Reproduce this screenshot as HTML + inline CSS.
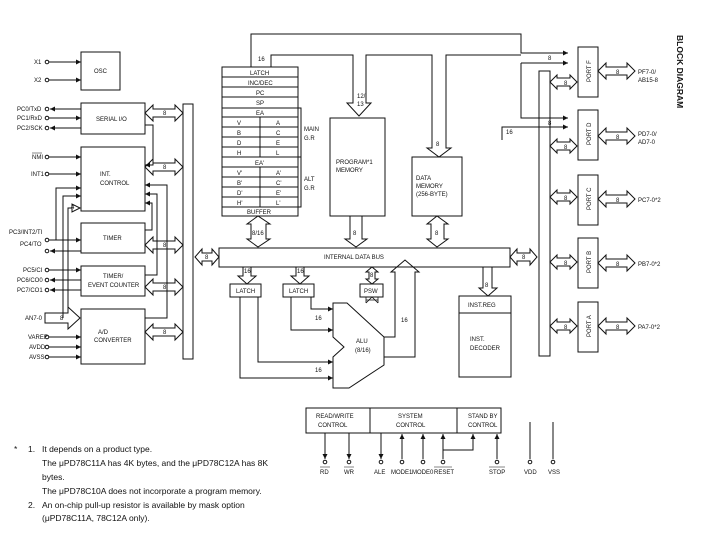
<!DOCTYPE html>
<html><head><meta charset="utf-8"><style>
body{margin:0;background:#fff}
svg{display:block}
text{font-family:"Liberation Sans",sans-serif;font-size:6px;fill:#111}
.fn{font-size:8.5px}
</style></head><body>
<svg width="706" height="550" viewBox="0 0 706 550" xmlns="http://www.w3.org/2000/svg">
<defs>
<marker id="a" viewBox="0 0 6 6" refX="6" refY="3" markerWidth="5" markerHeight="5" orient="auto"><path d="M0,0L6,3L0,6z" fill="#111"/></marker>
</defs>
<g fill="none" stroke="#111" stroke-width="1">
<!-- left boxes -->
<rect x="81" y="52" width="39" height="38"/>
<rect x="81" y="103" width="64" height="31"/>
<rect x="81" y="147" width="64" height="64"/>
<rect x="81" y="223" width="64" height="30"/>
<rect x="81" y="266" width="64" height="30"/>
<rect x="81" y="309" width="64" height="55"/>
<rect x="183" y="104" width="10" height="255"/>
<!-- pins left -->
<g>
<circle cx="47" cy="62" r="1.8"/><path d="M49,62H81" marker-end="url(#a)"/>
<circle cx="47" cy="80" r="1.8"/><path d="M49,80H81" marker-end="url(#a)"/>
<circle cx="47" cy="109" r="1.8"/><path d="M81,109H50" marker-end="url(#a)"/>
<circle cx="47" cy="118" r="1.8"/><path d="M49,118H81" marker-end="url(#a)"/>
<circle cx="47" cy="128" r="1.8"/><path d="M81,128H50" marker-end="url(#a)"/>
<circle cx="47" cy="157" r="1.8"/><path d="M49,157H81" marker-end="url(#a)"/>
<circle cx="47" cy="174" r="1.8"/><path d="M49,174H81" marker-end="url(#a)"/>
<circle cx="47" cy="240" r="1.8"/><path d="M49,240H81" marker-end="url(#a)"/>
<circle cx="47" cy="251" r="1.8"/><path d="M81,251H50" marker-end="url(#a)"/>
<circle cx="47" cy="270" r="1.8"/><path d="M49,270H81" marker-end="url(#a)"/>
<circle cx="47" cy="280" r="1.8"/><path d="M81,280H50" marker-end="url(#a)"/>
<circle cx="47" cy="290" r="1.8"/><path d="M81,290H50" marker-end="url(#a)"/>
<circle cx="47" cy="337" r="1.8"/><path d="M49,337H81" marker-end="url(#a)"/>
<circle cx="47" cy="347" r="1.8"/><path d="M49,347H81" marker-end="url(#a)"/>
<circle cx="47" cy="357" r="1.8"/><path d="M49,357H81" marker-end="url(#a)"/>
<path d="M56,240V188H81" marker-end="url(#a)"/>
<path d="M63,318V196H81" marker-end="url(#a)"/>
<path d="M45,313H68V307L80,318L68,329V323H45Z"/>
<path d="M68,313V208H72V204L80,208L72,212V208"/>
<path d="M145,125H153V165H145" marker-end="url(#a)"/>
<path d="M145,230H152V203H145" marker-end="url(#a)"/>
<path d="M145,275H157V194H145" marker-end="url(#a)"/>
<path d="M145,318H167V185H145" marker-end="url(#a)"/>
</g>
<!-- left double arrows -->
<g>
<path d="M145,113L153,105V109H175V105L183,113L175,121V117H153V121Z"/>
<path d="M145,167L153,159V163H175V159L183,167L175,175V171H153V175Z"/>
<path d="M145,245L153,237V241H175V237L183,245L175,253V249H153V253Z"/>
<path d="M145,287L153,279V283H175V279L183,287L175,295V291H153V295Z"/>
<path d="M145,332L153,324V328H175V324L183,332L175,340V336H153V340Z"/>
<path d="M195,257L202,249V253H212V249L219,257L212,265V261H202V265Z"/>
<path d="M510,257L517,249V253H530V249L537,257L530,265V261H517V265Z"/>
</g>
<!-- register file -->
<rect x="222" y="67" width="76" height="149"/>
<path d="M222,77H298M222,87H298M222,97H298M222,108H298M222,117H298M222,127H298M222,137H298M222,147H298M222,157H298M222,167H298M222,177H298M222,187H298M222,197H298M222,207H298M260,117V157M260,167V207"/>
<path d="M298,108h3v49h-3M298,157h3v50h-3"/>
<!-- memories -->
<rect x="330" y="118" width="55" height="98"/>
<rect x="412" y="157" width="50" height="59"/>
<!-- top address lines -->
<path d="M251,67V34H521V53H568" marker-end="url(#a)"/>
<path d="M271,67V55H353V103h-6l12,13l12,-13h-5V55H432V148h-5l12,9l12,-9h-5V55H521"/>
<path d="M521,63H568" marker-end="url(#a)"/>
<path d="M521,63V118H568" marker-end="url(#a)"/>
<path d="M502,140V127H568" marker-end="url(#a)"/>
<!-- down arrows to bus -->
<path d="M258,216L247,224H251V239H247L258,247L270,239H266V224H270Z"/>
<path d="M350,216V239H345L356,247L367,239H362V216"/>
<path d="M437,216L427,224H431V239H427L437,247L448,239H444V224H448Z"/>
<!-- internal bus -->
<rect x="219" y="248" width="291" height="19"/>
<path d="M243,267V276H238L247,284L256,276H251V267"/>
<path d="M296,267V276H291L300,284L309,276H304V267"/>
<path d="M366,272L372,267L378,272H375V279H378L372,284L366,279H369V272Z"/>
<path d="M483,267V288H479L488,296L497,288H492V267"/>
<rect x="230" y="284" width="31" height="13"/>
<rect x="283" y="284" width="31" height="13"/>
<rect x="360" y="284" width="23" height="13"/>
<rect x="459" y="296" width="52" height="81"/>
<path d="M459,313H511"/>
<!-- ALU -->
<path d="M333,303H347L384,337V365L349,388H333V357L344,347L333,337Z"/>
<path d="M366,303V297M378,303V297M366,303L372,297L378,303M366,300H378" stroke-width="0.8"/>
<path d="M384,337H395V272H391L405,260L419,272H415V357H384"/>
<path d="M291,297V330H333" marker-end="url(#a)"/>
<path d="M311,297V309H333" marker-end="url(#a)"/>
<path d="M240,297V378H333" marker-end="url(#a)"/>
<path d="M258,297V362H333" marker-end="url(#a)"/>
<!-- right bus and ports -->
<rect x="539" y="71" width="11" height="285"/>
<rect x="578" y="47" width="20" height="50"/>
<rect x="578" y="110" width="20" height="50"/>
<rect x="578" y="175" width="20" height="50"/>
<rect x="578" y="238" width="20" height="50"/>
<rect x="578" y="302" width="20" height="50"/>
<g>
<path d="M550,82L557,75V78H570V75L577,82L570,89V86H557V89Z"/>
<path d="M550,146L557,139V142H570V139L577,146L570,153V150H557V153Z"/>
<path d="M550,197L557,190V193H570V190L577,197L570,204V201H557V204Z"/>
<path d="M550,262L557,255V258H570V255L577,262L570,269V266H557V269Z"/>
<path d="M550,326L557,319V322H570V319L577,326L570,333V330H557V333Z"/>
<path d="M598,71L606,63V67H627V63L635,71L627,79V75H606V79Z"/>
<path d="M598,136L606,128V132H627V128L635,136L627,144V140H606V144Z"/>
<path d="M598,199L606,191V195H627V191L635,199L627,207V203H606V207Z"/>
<path d="M598,263L606,255V259H627V255L635,263L627,271V267H606V271Z"/>
<path d="M598,326L606,318V322H627V318L635,326L627,334V330H606V334Z"/>
</g>
<!-- bottom control -->
<rect x="306" y="408" width="195" height="25"/>
<path d="M370,408V433M457,408V433"/>
<path d="M325,433V459" marker-end="url(#a)"/>
<path d="M349,433V459" marker-end="url(#a)"/>
<path d="M381,433V459" marker-end="url(#a)"/>
<path d="M402,459V434" marker-end="url(#a)"/>
<path d="M423,459V434" marker-end="url(#a)"/>
<path d="M443,459V434" marker-end="url(#a)"/>
<path d="M443,450H473V434" marker-end="url(#a)"/>
<path d="M497,459V434" marker-end="url(#a)"/>
<path d="M530,422V459M553,422V459"/>
<circle cx="325" cy="462" r="1.8"/><circle cx="349" cy="462" r="1.8"/><circle cx="381" cy="462" r="1.8"/><circle cx="402" cy="462" r="1.8"/><circle cx="423" cy="462" r="1.8"/><circle cx="443" cy="462" r="1.8"/><circle cx="497" cy="462" r="1.8"/><circle cx="530" cy="462" r="1.8"/><circle cx="553" cy="462" r="1.8"/>
</g>
<g>
<text x="34" y="64">X1</text><text x="34" y="82">X2</text>
<text x="94" y="73">OSC</text>
<text x="17" y="111">PC0/TxD</text><text x="17" y="120">PC1/RxD</text><text x="17" y="130">PC2/SCK</text>
<text x="96" y="121">SERIAL I/O</text>
<text x="32" y="159">NMI</text><text x="31" y="176">INT1</text>
<text x="100" y="176">INT.</text><text x="100" y="185">CONTROL</text>
<text x="9" y="234">PC3/INT2/TI</text><text x="20" y="246">PC4/TO</text>
<text x="103" y="240">TIMER</text>
<text x="23" y="272">PC5/CI</text><text x="17" y="282">PC6/CO0</text><text x="17" y="292">PC7/CO1</text>
<text x="103" y="278">TIMER/</text><text x="88" y="287">EVENT COUNTER</text>
<text x="25" y="320">AN7-0</text><text x="60" y="320">8</text><text x="71" y="209">4</text>
<text x="98" y="334">A/D</text><text x="94" y="342">CONVERTER</text>
<text x="28" y="339">VAREF</text><text x="29" y="349">AVDD</text><text x="29" y="359">AVSS</text>
<text x="163" y="115">8</text><text x="163" y="169">8</text><text x="163" y="247">8</text><text x="163" y="289">8</text><text x="163" y="334">8</text><text x="205" y="259">8</text><text x="522" y="259">8</text>
<text x="258" y="61">16</text><text x="357" y="98">12/</text><text x="357" y="106">13</text><text x="436" y="146">8</text><text x="506" y="134">16</text>
<text x="548" y="60">8</text><text x="548" y="125">8</text>
<text x="250" y="75">LATCH</text><text x="248" y="85">INC/DEC</text><text x="256" y="95">PC</text><text x="256" y="105">SP</text><text x="256" y="115">EA</text>
<text x="237" y="125">V</text><text x="276" y="125">A</text><text x="237" y="135">B</text><text x="276" y="135">C</text><text x="237" y="145">D</text><text x="276" y="145">E</text><text x="237" y="155">H</text><text x="276" y="155">L</text>
<text x="255" y="165">EA'</text>
<text x="237" y="175">V'</text><text x="276" y="175">A'</text><text x="237" y="185">B'</text><text x="276" y="185">C'</text><text x="237" y="195">D'</text><text x="276" y="195">E'</text><text x="237" y="205">H'</text><text x="276" y="205">L'</text>
<text x="247" y="214">BUFFER</text>
<text x="304" y="131">MAIN</text><text x="304" y="140">G.R</text><text x="304" y="181">ALT</text><text x="304" y="190">G.R</text>
<text x="336" y="164">PROGRAM*1</text><text x="336" y="172">MEMORY</text>
<text x="416" y="180">DATA</text><text x="416" y="188">MEMORY</text><text x="416" y="196">(256-BYTE)</text>
<text x="252" y="235">8/16</text><text x="353" y="235">8</text><text x="435" y="235">8</text>
<text x="324" y="259">INTERNAL DATA BUS</text>
<text x="244" y="273">16</text><text x="297" y="273">16</text><text x="370" y="277">8</text><text x="485" y="287">8</text>
<text x="236" y="293">LATCH</text><text x="289" y="293">LATCH</text><text x="364" y="293">PSW</text>
<text x="315" y="320">16</text><text x="315" y="372">16</text><text x="401" y="322">16</text>
<text x="356" y="343">ALU</text><text x="355" y="352">(8/16)</text>
<text x="468" y="307">INST.REG</text><text x="470" y="341">INST.</text><text x="470" y="350">DECODER</text>
<text x="564" y="85">8</text><text x="564" y="149">8</text><text x="564" y="200">8</text><text x="564" y="265">8</text><text x="564" y="329">8</text>
<text x="616" y="74">8</text><text x="616" y="139">8</text><text x="616" y="202">8</text><text x="616" y="266">8</text><text x="616" y="329">8</text>
<text x="638" y="74">PF7-0/</text><text x="638" y="82">AB15-8</text><text x="638" y="136">PD7-0/</text><text x="638" y="144">AD7-0</text>
<text x="638" y="202">PC7-0*2</text><text x="638" y="266">PB7-0*2</text><text x="638" y="329">PA7-0*2</text>
<text transform="translate(591,72) rotate(-90)" x="-10" y="0">PORT F</text>
<text transform="translate(591,135) rotate(-90)" x="-10" y="0">PORT D</text>
<text transform="translate(591,200) rotate(-90)" x="-10" y="0">PORT C</text>
<text transform="translate(591,263) rotate(-90)" x="-10" y="0">PORT B</text>
<text transform="translate(591,327) rotate(-90)" x="-10" y="0">PORT A</text>
<text transform="translate(677,35) rotate(90)" style="font-size:8.5px;font-weight:bold">BLOCK DIAGRAM</text>
<text x="316" y="418">READ/WRITE</text><text x="318" y="427">CONTROL</text>
<text x="398" y="418">SYSTEM</text><text x="396" y="427">CONTROL</text>
<text x="468" y="418">STAND BY</text><text x="468" y="427">CONTROL</text>
<text x="320" y="474">RD</text><text x="344" y="474">WR</text><text x="374" y="474">ALE</text><text x="391" y="474">MODE1</text><text x="412" y="474">MODE0</text><text x="434" y="474">RESET</text><text x="489" y="474">STOP</text><text x="524" y="474">VDD</text><text x="548" y="474">VSS</text>
</g>
<path d="M320,467H330M344,467H354M434,467H452M489,467H505M32,153H42" stroke="#111" stroke-width="0.6"/>
<g class="fn">
<text class="fn" x="14" y="452">*</text>
<text class="fn" x="28" y="452">1.</text><text class="fn" x="42" y="452">It depends on a product type.</text>
<text class="fn" x="42" y="466">The μPD78C11A has 4K bytes, and the μPD78C12A has 8K</text>
<text class="fn" x="42" y="480">bytes.</text>
<text class="fn" x="42" y="494">The μPD78C10A does not incorporate a program memory.</text>
<text class="fn" x="28" y="508">2.</text><text class="fn" x="42" y="508">An on-chip pull-up resistor is available by mask option</text>
<text class="fn" x="42" y="521">(μPD78C11A, 78C12A only).</text>
</g>
</svg>
</body></html>
